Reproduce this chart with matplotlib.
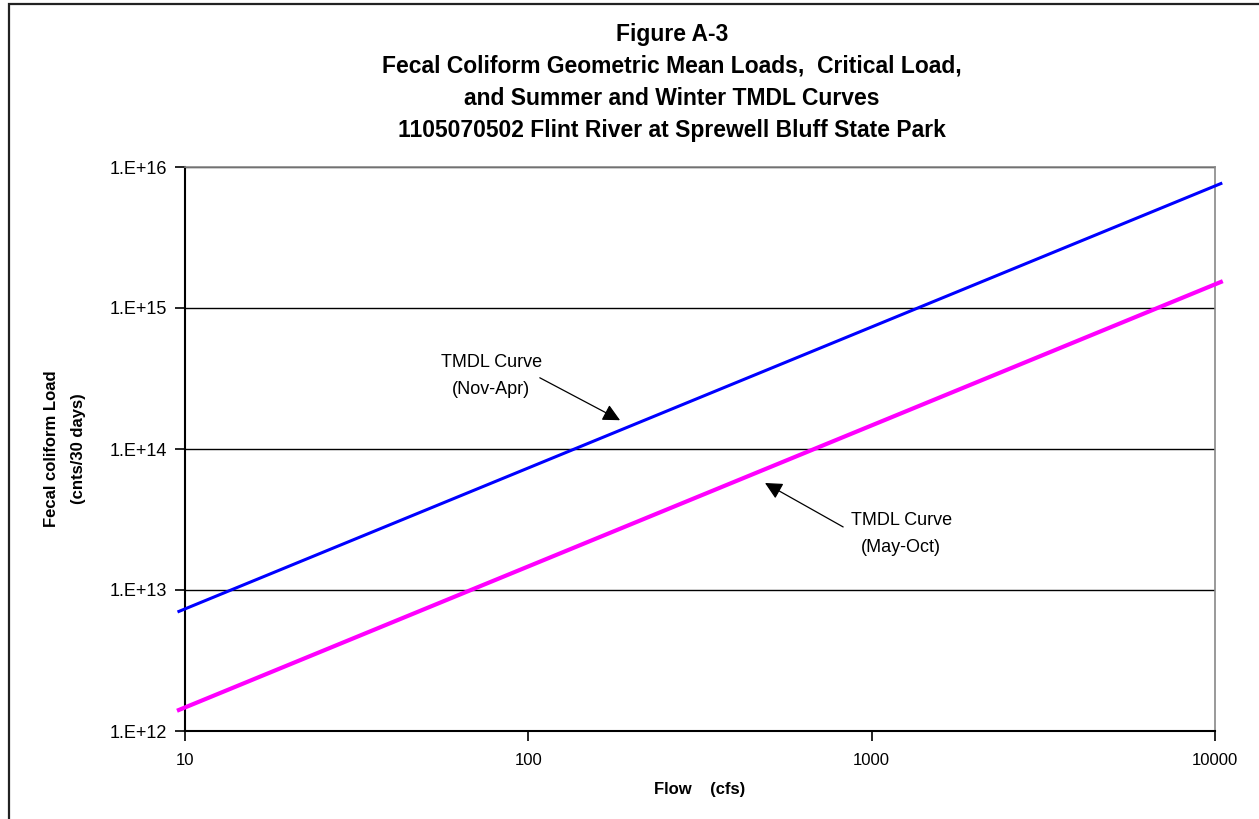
import numpy as np
import matplotlib
matplotlib.use("Agg")
import matplotlib.pyplot as plt
from matplotlib.ticker import FixedLocator, FuncFormatter, NullLocator
from matplotlib.patches import Rectangle

# ---------------- data ----------------
flow = [9.6, 100, 1000, 10400]                      # cfs
load_winter = [7.05e12, 7.34e13, 7.34e14, 7.63e15]  # Nov-Apr TMDL curve
load_summer = [1.41e12, 1.47e13, 1.47e14, 1.53e15]  # May-Oct TMDL curve
x_ticks = [10, 100, 1000, 10000]
y_ticks = [1e12, 1e13, 1e14, 1e15, 1e16]

TITLE = ("Figure A-3\n"
         "Fecal Coliform Geometric Mean Loads,  Critical Load,\n"
         "and Summer and Winter TMDL Curves\n"
         "1105070502 Flint River at Sprewell Bluff State Park")

plt.rcParams.update({"font.family": ["Liberation Sans", "DejaVu Sans"]})

fig = plt.figure(figsize=(12.59, 8.19), dpi=100)
ax = fig.add_axes([185 / 1259, 1 - 731 / 819, (1215 - 185) / 1259, (731 - 167) / 819])

# outer frame of the chart object (cropped at right/bottom)
fig.patches.append(Rectangle((9 / 1259, -0.05), 1.1, 1 - 4 / 819 + 0.05,
                             transform=fig.transFigure, fill=False,
                             edgecolor="#222222", lw=1.6, clip_on=False))

ax.plot(flow, load_winter, color="#0000ff", lw=2.2, clip_on=False, zorder=3)
ax.plot(flow, load_summer, color="#ff00ff", lw=3.0, clip_on=False, zorder=3)

ax.set_xscale("log"); ax.set_yscale("log")
ax.set_xlim(10, 10000); ax.set_ylim(1e12, 1e16)
ax.xaxis.set_major_locator(FixedLocator(x_ticks))
ax.yaxis.set_major_locator(FixedLocator(y_ticks))
ax.xaxis.set_minor_locator(NullLocator()); ax.yaxis.set_minor_locator(NullLocator())
ax.xaxis.set_major_formatter(FuncFormatter(lambda v, p: f"{int(round(v))}"))
ax.yaxis.set_major_formatter(FuncFormatter(lambda v, p: f"1.E+{int(round(np.log10(v)))}"))
ax.tick_params(axis="both", direction="out", length=7, width=1.2, colors="black")
ax.tick_params(axis="x", pad=9, labelsize=12)
ax.tick_params(axis="y", pad=6, labelsize=13)

ax.grid(axis="y", color="black", lw=1.0)
ax.set_axisbelow(True)
for s in ("left", "bottom"):
    ax.spines[s].set_color("black"); ax.spines[s].set_linewidth(1.5)
for s in ("top", "right"):
    ax.spines[s].set_color("#888888"); ax.spines[s].set_linewidth(1.2)

ax.set_xlabel("Flow    (cfs)", fontsize=12, fontweight="bold", labelpad=10)
ax.set_ylabel("Fecal coliform Load\n(cnts/30 days)", fontsize=12, fontweight="bold",
              linespacing=2.0, va="center")
ax.yaxis.set_label_coords(-(185 - 65) / 1030, 0.5)

fig.text(672 / 1259, 1 - 23 / 819, TITLE, ha="center", va="top", fontsize=16.5,
         fontweight="bold", linespacing=1.5)

# annotations
arrow = dict(arrowstyle="-|>", color="black", lw=0.9, mutation_scale=26, shrinkA=0, shrinkB=0)
ax.annotate("", xy=(185, 1.6e14), xytext=(108, 3.2e14), arrowprops=arrow)
ax.text(78, 3.3e14, "TMDL Curve\n(Nov-Apr)", ha="center", va="center", fontsize=13, linespacing=1.75)
ax.annotate("", xy=(489, 5.74e13), xytext=(826, 2.8e13), arrowprops=arrow)
ax.text(1220, 2.5e13, "TMDL Curve\n(May-Oct)", ha="center", va="center", fontsize=13, linespacing=1.75)

fig.savefig("out.png", dpi=100)
